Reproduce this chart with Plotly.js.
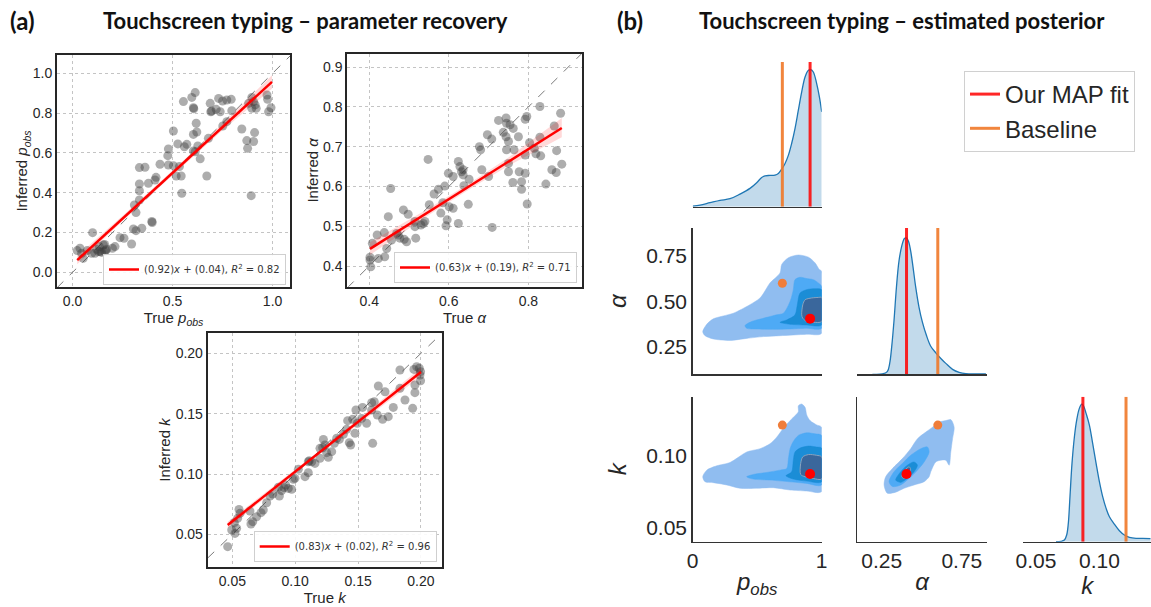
<!DOCTYPE html>
<html><head><meta charset="utf-8">
<script src="https://cdn.plot.ly/plotly-3.0.1.min.js"></script>
<style>html,body{margin:0;padding:0;background:#fff}#chart{width:1151px;height:607px}</style>
</head><body><div id="chart"></div>
<script>
// ---------- (a) parameter recovery data ----------
const pTrue=[0.023,0.045,0.053,0.073,0.100,0.095,0.120,0.134,0.137,0.154,0.159,0.170,0.199,0.212,0.237,0.257,0.295,0.304,0.317,0.309,0.317,0.346,0.334,0.334,0.334,0.334,0.362,0.379,0.396,0.398,0.417,0.412,0.437,0.476,0.479,0.479,0.504,0.504,0.518,0.526,0.534,0.543,0.546,0.554,0.559,0.571,0.596,0.613,0.604,0.606,0.604,0.618,0.621,0.613,0.604,0.626,0.638,0.671,0.679,0.688,0.691,0.695,0.718,0.730,0.738,0.750,0.771,0.793,0.796,0.771,0.751,0.846,0.871,0.875,0.896,0.905,0.896,0.913,0.918,0.910,0.905,0.893,0.972,0.975,0.980,0.992,0.880,0.037,0.112,0.129,0.145,0.165,0.160];
const pInferred=[0.109,0.095,0.070,0.109,0.199,0.095,0.116,0.129,0.104,0.137,0.104,0.116,0.121,0.129,0.174,0.171,0.142,0.218,0.209,0.338,0.300,0.221,0.363,0.410,0.444,0.526,0.528,0.447,0.255,0.250,0.477,0.464,0.543,0.586,0.620,0.539,0.710,0.536,0.484,0.645,0.531,0.484,0.397,0.858,0.631,0.643,0.879,0.903,0.827,0.822,0.693,0.749,0.705,0.606,0.610,0.635,0.570,0.484,0.673,0.849,0.807,0.810,0.819,0.874,0.807,0.861,0.866,0.869,0.812,0.757,0.735,0.720,0.662,0.623,0.879,0.858,0.824,0.841,0.824,0.702,0.657,0.385,0.891,0.869,0.807,0.827,0.849,0.121,0.095,0.104,0.100,0.110,0.140];

const aTrue=[0.402,0.402,0.404,0.408,0.420,0.423,0.438,0.439,0.444,0.448,0.454,0.456,0.469,0.473,0.477,0.486,0.488,0.494,0.498,0.515,0.517,0.515,0.530,0.536,0.540,0.548,0.551,0.563,0.574,0.580,0.585,0.590,0.593,0.596,0.599,0.601,0.611,0.611,0.624,0.624,0.628,0.632,0.636,0.636,0.638,0.649,0.651,0.677,0.680,0.683,0.697,0.700,0.708,0.709,0.744,0.745,0.744,0.745,0.750,0.750,0.750,0.754,0.761,0.762,0.764,0.775,0.777,0.783,0.783,0.792,0.792,0.796,0.792,0.797,0.803,0.815,0.819,0.829,0.829,0.831,0.844,0.859,0.865,0.870,0.871,0.881,0.884,0.737,0.725];
const aInferred=[0.422,0.415,0.398,0.457,0.478,0.419,0.484,0.423,0.444,0.524,0.595,0.465,0.482,0.478,0.470,0.541,0.467,0.461,0.530,0.512,0.470,0.499,0.503,0.507,0.512,0.668,0.554,0.581,0.593,0.533,0.559,0.601,0.501,0.516,0.633,0.549,0.625,0.545,0.507,0.663,0.650,0.637,0.642,0.629,0.602,0.555,0.618,0.700,0.692,0.642,0.730,0.625,0.719,0.497,0.772,0.759,0.725,0.692,0.713,0.658,0.637,0.755,0.610,0.746,0.692,0.725,0.637,0.612,0.593,0.679,0.769,0.776,0.633,0.556,0.710,0.696,0.682,0.801,0.724,0.677,0.606,0.642,0.752,0.635,0.690,0.784,0.656,0.736,0.766];

const kTrue=[0.0463,0.0495,0.0516,0.0521,0.0534,0.0553,0.0561,0.0542,0.0640,0.0648,0.0662,0.0693,0.0728,0.0746,0.0773,0.0821,0.0866,0.0874,0.0892,0.0911,0.0924,0.0972,0.0985,0.0998,0.1025,0.1078,0.1104,0.1112,0.1131,0.1157,0.1197,0.1218,0.1224,0.1237,0.1250,0.1263,0.1290,0.1311,0.1330,0.1351,0.1383,0.1409,0.1417,0.1430,0.1441,0.1457,0.1475,0.1483,0.1494,0.1528,0.1536,0.1568,0.1608,0.1616,0.1608,0.1629,0.1661,0.1653,0.1695,0.1714,0.1740,0.1780,0.1833,0.1833,0.1873,0.1934,0.1952,0.1952,0.1944,0.1966,0.1987,0.1997,0.1997,0.1992,0.1104,0.0945,0.0800,0.1197];
const kInferred=[0.0398,0.0536,0.0597,0.0508,0.0550,0.0707,0.0674,0.0633,0.0693,0.0586,0.0605,0.0646,0.0680,0.0702,0.0762,0.0834,0.0890,0.0818,0.0862,0.0887,0.0909,0.0873,0.0956,0.0964,0.1039,0.0978,0.1011,0.1110,0.1102,0.1088,0.1130,0.1218,0.1287,0.1240,0.1177,0.1138,0.1185,0.1254,0.1296,0.1287,0.1329,0.1370,0.1442,0.1260,0.1240,0.1453,0.1337,0.1530,0.1420,0.1461,0.1552,0.1420,0.1530,0.1254,0.1591,0.1599,0.1729,0.1489,0.1453,0.1682,0.1475,0.1552,0.1862,0.1710,0.1613,0.1544,0.1738,0.1674,0.1867,0.1889,0.1876,0.1848,0.1773,0.1820,0.1102,0.0881,0.0818,0.1213];

// regression fit lines (end points) and confidence bands
const pFitX=[0.023,0.997], pFitY=[0.061,0.957];
const pBandX=[0.023,0.25,0.5,0.75,0.997], pBandLo=[0.040,0.258,0.488,0.714,0.922], pBandHi=[0.083,0.284,0.512,0.748,0.990];
const aFitX=[0.402,0.884], aFitY=[0.443,0.747];
const aBandX=[0.402,0.55,0.65,0.75,0.884], aBandLo=[0.428,0.528,0.592,0.652,0.724], aBandHi=[0.460,0.545,0.607,0.673,0.772];
const kFitX=[0.0463,0.200], kFitY=[0.0577,0.1845];
const kBandX=[0.0463,0.12,0.200], kBandLo=[0.0550,0.1170,0.1810], kBandHi=[0.0605,0.1200,0.1880];
const fitLabels=["(0.92)<i>x</i> + (0.04), <i>R</i><sup>2</sup> = 0.82",
                 "(0.63)<i>x</i> + (0.19), <i>R</i><sup>2</sup> = 0.71",
                 "(0.83)<i>x</i> + (0.02), <i>R</i><sup>2</sup> = 0.96"];

// ---------- (b) posterior data ----------
const mapFit=[0.91,0.405,0.087];      // p_obs, alpha, k
const baseline=[0.695,0.600,0.121];
const kdeP_x=[0,0.057,0.134,0.212,0.289,0.367,0.444,0.496,0.535,0.561,0.599,0.638,0.664,0.690,0.716,0.742,0.767,0.793,0.819,0.845,0.871,0.897,0.915,0.935,0.961,0.982,1.0];
const kdeP_y=[0.02,0.05,0.12,0.19,0.24,0.38,0.55,0.72,0.88,0.93,0.94,0.95,1.00,1.13,1.30,1.55,1.90,2.35,2.90,3.45,3.90,4.10,4.12,4.05,3.70,3.30,2.85];
const kdeA_x=[0.192,0.254,0.285,0.300,0.3125,0.327,0.342,0.358,0.375,0.392,0.404,0.417,0.431,0.446,0.4625,0.483,0.504,0.529,0.556,0.5875,0.619,0.650,0.692,0.733,0.775,0.8375,0.9];
const kdeA_y=[0,0.01,0.08,0.33,0.83,1.63,2.63,3.43,3.88,4.11,4.13,4.03,3.73,3.23,2.63,2.03,1.58,1.18,0.85,0.65,0.48,0.33,0.15,0.06,0.02,0.01,0.01];
const kdeK_x=[0.0658,0.0697,0.0724,0.0742,0.0755,0.0768,0.0784,0.0803,0.0821,0.0842,0.0861,0.0876,0.0895,0.0921,0.0947,0.0974,0.1000,0.1026,0.1053,0.1079,0.1118,0.1158,0.1197,0.1237,0.1289,0.1342,0.1403];
const kdeK_y=[0,0.01,0.05,0.20,0.55,1.35,2.35,3.15,3.65,4.00,4.13,4.07,3.85,3.50,2.95,2.35,1.80,1.35,1.00,0.75,0.53,0.33,0.20,0.13,0.10,0.10,0.09];

// contour outlines [x,y] per level (lightest -> darkest)
const contPA=[
 [[0.078,0.333],[0.109,0.374],[0.160,0.404],[0.238,0.420],[0.315,0.435],[0.419,0.472],[0.522,0.519],[0.574,0.574],[0.599,0.602],[0.677,0.657],[0.690,0.704],[0.742,0.741],[0.819,0.756],[0.897,0.744],[0.948,0.713],[0.982,0.676],[1.0,0.667],[1.0,0.324],[0.884,0.319],[0.677,0.311],[0.548,0.306],[0.419,0.296],[0.289,0.285],[0.160,0.293],[0.096,0.311]],
 [[0.406,0.367],[0.457,0.389],[0.548,0.407],[0.651,0.426],[0.703,0.435],[0.755,0.500],[0.780,0.565],[0.793,0.620],[0.832,0.633],[0.884,0.626],[0.935,0.620],[0.974,0.602],[1.0,0.583],[1.0,0.352],[0.884,0.352],[0.755,0.348],[0.625,0.346],[0.496,0.348],[0.419,0.352]],
 [[0.677,0.385],[0.729,0.398],[0.793,0.426],[0.811,0.481],[0.832,0.546],[0.884,0.565],[0.948,0.570],[1.0,0.565],[1.0,0.370],[0.884,0.370],[0.755,0.374]],
 [[0.845,0.426],[0.853,0.481],[0.871,0.509],[0.922,0.519],[0.974,0.522],[1.0,0.522],[1.0,0.389],[0.935,0.385],[0.884,0.389],[0.853,0.407]]
];
const contPK=[
 [[0.078,0.0851],[0.109,0.0897],[0.186,0.0927],[0.289,0.0950],[0.419,0.1023],[0.522,0.1046],[0.599,0.1080],[0.651,0.1126],[0.703,0.1188],[0.755,0.1241],[0.793,0.1275],[0.819,0.1303],[0.819,0.1344],[0.845,0.1356],[0.871,0.1333],[0.884,0.1280],[0.910,0.1241],[0.961,0.1211],[1.0,0.1195],[1.0,0.0748],[0.884,0.0752],[0.755,0.0759],[0.625,0.0775],[0.496,0.0771],[0.367,0.0771],[0.264,0.0794],[0.160,0.0810],[0.096,0.0816]],
 [[0.419,0.0851],[0.470,0.0867],[0.574,0.0881],[0.677,0.0897],[0.729,0.0908],[0.742,0.0977],[0.755,0.1046],[0.780,0.1096],[0.819,0.1138],[0.884,0.1156],[0.948,0.1149],[1.0,0.1138],[1.0,0.0794],[0.884,0.0805],[0.755,0.0816],[0.599,0.0828],[0.470,0.0835]],
 [[0.724,0.0858],[0.767,0.0885],[0.780,0.0966],[0.793,0.1023],[0.832,0.1050],[0.897,0.1064],[0.961,0.1057],[1.0,0.1050],[1.0,0.0816],[0.884,0.0821],[0.780,0.0835]],
 [[0.837,0.0867],[0.837,0.0943],[0.853,0.0989],[0.897,0.1005],[0.961,0.1000],[1.0,0.0989],[1.0,0.0835],[0.935,0.0839],[0.871,0.0851]]
];
const contAK=[
 [[0.265,0.0794],[0.275,0.0851],[0.317,0.0908],[0.379,0.0977],[0.431,0.1046],[0.473,0.1115],[0.525,0.1161],[0.567,0.1195],[0.608,0.1230],[0.650,0.1241],[0.681,0.1248],[0.702,0.1195],[0.692,0.1115],[0.681,0.1023],[0.671,0.0931],[0.650,0.0966],[0.619,0.0966],[0.5875,0.0954],[0.556,0.0885],[0.546,0.0851],[0.515,0.0817],[0.452,0.0794],[0.390,0.0771],[0.3375,0.0744],[0.285,0.0737]],
 [[0.296,0.0817],[0.327,0.0886],[0.379,0.0943],[0.431,0.1000],[0.494,0.1046],[0.535,0.1058],[0.546,0.1023],[0.515,0.0954],[0.473,0.0897],[0.421,0.0840],[0.369,0.0794],[0.317,0.0783]],
 [[0.3375,0.0828],[0.369,0.0886],[0.410,0.0931],[0.452,0.0954],[0.473,0.0931],[0.452,0.0886],[0.410,0.0840],[0.369,0.0812]],
 [[0.375,0.0851],[0.396,0.0897],[0.421,0.0920],[0.431,0.0904],[0.410,0.0862],[0.390,0.0840]]
];
const levelColors=['#90bdf0','#4eaaf5','#1b8dd6','#3a679c'];

// ---------- layout helpers ----------
const W=1151,H=607;
const fx=(a,b)=>[a/W,b/W], fy=(top,bot)=>[1-bot/H,1-top/H];
const SANS='Liberation Sans, Arial, sans-serif';
const TICKF={family:SANS,size:14,color:'#262626'};
const TITF={family:SANS,size:15,color:'#262626'};
function recAxis(domain,range,tickvals,fmt,anchor,title){
  return {domain,range,anchor,tickvals,tickformat:fmt,showgrid:true,gridcolor:'#c4c4c4',griddash:'dot',gridwidth:1,
    zeroline:false,showline:true,mirror:true,linecolor:'#262626',linewidth:2,ticks:'',tickfont:TICKF,
    title:{text:title,font:TITF,standoff:1}};
}
const CTF={family:SANS,size:21,color:'#262626'};
const CTT={family:SANS,size:24,color:'#262626'};
function cAxis(domain,range,anchor,opts){
  return Object.assign({domain,range,anchor,showgrid:false,zeroline:false,showline:true,linecolor:'#333',linewidth:1.5,
    ticks:'',tickfont:CTF,showticklabels:false},opts||{});
}

const recRanges={p:[[-0.078,1.087],[-0.074,1.092]],a:[[0.345,0.934],[0.348,0.933]],k:[[0.0304,0.2165],[0.0232,0.2166]]};
const cr={p:[0,1],a:[0.098,0.905],k:[0.040,0.1407]};
const diagTop=[4.35,4.43,4.35];

const traces=[];
function recPanel(xs,ys,fX,fY,bX,bLo,bHi,label,ax,lg,rng){
  const xa='x'+ax, ya='y'+ax;
  traces.push({x:[rng[0][0],rng[0][1]],y:[rng[0][0],rng[0][1]],xaxis:xa,yaxis:ya,mode:'lines',
    line:{color:'#7a7a7a',width:1,dash:'dash'},showlegend:false,hoverinfo:'skip'});
  traces.push({x:xs,y:ys,xaxis:xa,yaxis:ya,mode:'markers',marker:{size:9,color:'rgba(60,60,60,0.42)'},showlegend:false});
  traces.push({x:bX.concat(bX.slice().reverse()),y:bLo.concat(bHi.slice().reverse()),xaxis:xa,yaxis:ya,mode:'lines',
    fill:'toself',fillcolor:'rgba(255,0,0,0.15)',line:{width:0},showlegend:false,hoverinfo:'skip'});
  traces.push({x:fX,y:fY,xaxis:xa,yaxis:ya,mode:'lines',line:{color:'#ff0000',width:2.5},name:label,legend:lg,showlegend:true});
}
recPanel(pTrue,pInferred,pFitX,pFitY,pBandX,pBandLo,pBandHi,fitLabels[0],'','legend',recRanges.p);
recPanel(aTrue,aInferred,aFitX,aFitY,aBandX,aBandLo,aBandHi,fitLabels[1],'2','legend2',recRanges.a);
recPanel(kTrue,kInferred,kFitX,kFitY,kBandX,kBandLo,kBandHi,fitLabels[2],'3','legend3',recRanges.k);

// diagonals
function diag(xs,ys,ax,idx){
  const xa='x'+ax, ya='y'+ax;
  traces.push({x:xs,y:ys,xaxis:xa,yaxis:ya,mode:'lines',fill:'tozeroy',fillcolor:'rgba(31,119,180,0.27)',
    line:{color:'#1f77b4',width:1.3,shape:'spline'},showlegend:false,hoverinfo:'skip'});
  traces.push({x:[mapFit[idx],mapFit[idx]],y:[0,diagTop[idx]],xaxis:xa,yaxis:ya,mode:'lines',
    line:{color:'rgba(255,0,0,0.85)',width:3},name:'Our MAP fit',legend:'legend4',legendgroup:'map',showlegend:idx===0});
  traces.push({x:[baseline[idx],baseline[idx]],y:[0,diagTop[idx]],xaxis:xa,yaxis:ya,mode:'lines',
    line:{color:'rgba(240,120,40,0.9)',width:3},name:'Baseline',legend:'legend4',legendgroup:'base',showlegend:idx===0});
}
diag(kdeP_x,kdeP_y,'4',0);
diag(kdeA_x,kdeA_y,'6',1);
diag(kdeK_x,kdeK_y,'9',2);

function contours(levels,ax,ix,iy){
  const xa='x'+ax, ya='y'+ax;
  levels.forEach((poly,i)=>{
    traces.push({x:poly.map(p=>p[0]).concat([poly[0][0]]),y:poly.map(p=>p[1]).concat([poly[0][1]]),xaxis:xa,yaxis:ya,
      mode:'lines',fill:'toself',fillcolor:levelColors[i],line:{color:i===3?'#8aa3bf':levelColors[i],width:i===3?1:0.5,shape:'spline',smoothing:0.8},
      showlegend:false,hoverinfo:'skip'});
  });
  traces.push({x:[baseline[ix]],y:[baseline[iy]],xaxis:xa,yaxis:ya,mode:'markers',marker:{size:9,color:'#ef7d3a'},showlegend:false});
  traces.push({x:[mapFit[ix]],y:[mapFit[iy]],xaxis:xa,yaxis:ya,mode:'markers',marker:{size:10,color:'#ff0000'},showlegend:false});
}
contours(contPA,'5',0,1);
contours(contPK,'7',0,2);
contours(contAK,'8',1,2);

const col1=fx(692.7,821.7), col2=fx(857.3,986.7), col3=fx(1023.3,1151);
const row1=fy(62,206.7), row2=fy(228,374.3), row3=fy(396.7,541.7);
const italic=s=>'<i>'+s+'</i>';
const pobs='<i>p</i><sub><i>obs</i></sub>';

const legA={bgcolor:'rgba(255,255,255,0.9)',bordercolor:'#cfcfcf',borderwidth:1,font:{family:'DejaVu Sans, sans-serif',size:10,color:'#333'},
  xanchor:'right',yanchor:'bottom',itemwidth:30,tracegroupgap:0};
const TF={family:'Lato, sans-serif',size:22,color:'#111'};

const layout={
  width:W,height:H,margin:{l:0,r:0,t:0,b:0},paper_bgcolor:'#fff',plot_bgcolor:'#fff',showlegend:true,
  xaxis:recAxis(fx(57,290),recRanges.p[0],[0,0.5,1.0],'.1f','y','True '+pobs),
  yaxis:recAxis(fy(55,287),recRanges.p[1],[0,0.2,0.4,0.6,0.8,1.0],'.1f','x','Inferred '+pobs),
  xaxis2:recAxis(fx(347.3,581.7),recRanges.a[0],[0.4,0.6,0.8],'.1f','y2','True '+italic('α')),
  yaxis2:recAxis(fy(54,286.7),recRanges.a[1],[0.4,0.5,0.6,0.7,0.8,0.9],'.1f','x2','Inferred '+italic('α')),
  xaxis3:recAxis(fx(207.7,441.7),recRanges.k[0],[0.05,0.10,0.15,0.20],'.2f','y3','True '+italic('k')),
  yaxis3:recAxis(fy(333.3,566.7),recRanges.k[1],[0.05,0.10,0.15,0.20],'.2f','x3','Inferred '+italic('k')),
  // corner plot
  xaxis4:cAxis(col1,cr.p,'y4'), yaxis4:cAxis(row1,[0,diagTop[0]],'x4',{visible:false}),
  xaxis5:cAxis(col1,cr.p,'y5'), yaxis5:cAxis(row2,cr.a,'x5',{showticklabels:true,tickvals:[0.25,0.5,0.75],tickformat:'.2f',title:{text:italic('α'),font:CTT,standoff:12}}),
  xaxis6:cAxis(col2,cr.a,'y6'), yaxis6:cAxis(row2,[0,diagTop[1]],'x6',{visible:false}),
  xaxis7:cAxis(col1,cr.p,'y7',{showticklabels:true,tickvals:[0,1],tickformat:'d',title:{text:pobs,font:CTT,standoff:2}}),
  yaxis7:cAxis(row3,cr.k,'x7',{showticklabels:true,tickvals:[0.05,0.10],tickformat:'.2f',title:{text:italic('k'),font:CTT,standoff:12}}),
  xaxis8:cAxis(col2,cr.a,'y8',{showticklabels:true,tickvals:[0.25,0.75],tickformat:'.2f',title:{text:italic('α'),font:CTT,standoff:2}}),
  yaxis8:cAxis(row3,cr.k,'x8'),
  xaxis9:cAxis(col3,cr.k,'y9',{showticklabels:true,tickvals:[0.05,0.10],tickformat:'.2f',title:{text:italic('k'),font:CTT,standoff:2}}),
  yaxis9:cAxis(row3,[0,diagTop[2]],'x9',{visible:false}),
  legend:Object.assign({},legA,{x:286/W,y:1-285/H}),
  legend2:Object.assign({},legA,{x:577/W,y:1-283/H}),
  legend3:Object.assign({},legA,{x:436.7/W,y:1-562/H}),
  legend4:{x:964/W,y:1-71/H,xanchor:'left',yanchor:'top',bgcolor:'#fff',bordercolor:'#d0d0d0',borderwidth:1,
    font:{family:SANS,size:24,color:'#262626'},itemwidth:30,traceorder:'normal'},
  annotations:[
    {text:'<b>(a)</b>',x:8/W,y:1-21/H,xref:'paper',yref:'paper',xanchor:'left',yanchor:'middle',showarrow:false,font:{family:'Lato, sans-serif',size:24,color:'#111'}},
    {text:'<b>Touchscreen typing – parameter recovery</b>',x:305/W,y:1-21/H,xref:'paper',yref:'paper',xanchor:'center',yanchor:'middle',showarrow:false,font:TF},
    {text:'<b>(b)</b>',x:615/W,y:1-21/H,xref:'paper',yref:'paper',xanchor:'left',yanchor:'middle',showarrow:false,font:{family:'Lato, sans-serif',size:24,color:'#111'}},
    {text:'<b>Touchscreen typing – estimated posterior</b>',x:902/W,y:1-21/H,xref:'paper',yref:'paper',xanchor:'center',yanchor:'middle',showarrow:false,font:TF}
  ]
};
Plotly.newPlot('chart',traces,layout,{staticPlot:true,displayModeBar:false});
</script></body></html>
